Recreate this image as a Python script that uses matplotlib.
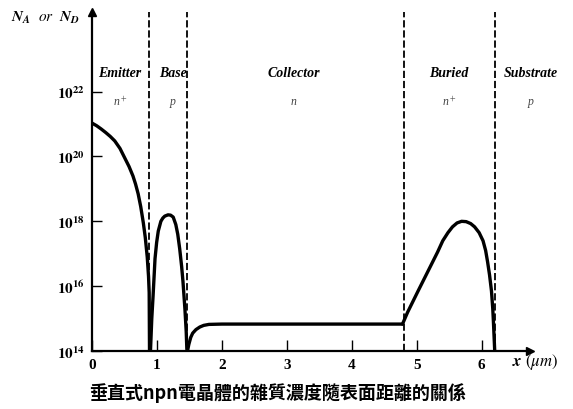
import numpy as np
import matplotlib
matplotlib.use("Agg")
import matplotlib.pyplot as plt
from matplotlib.ticker import NullLocator

plt.rcParams["font.family"] = ["Liberation Serif", "DejaVu Serif"]
plt.rcParams["mathtext.fontset"] = "stix"

# doping profile (x in um, log10 of concentration)
emitter_x = [0.0, 0.07, 0.14, 0.21, 0.28, 0.35, 0.43, 0.51, 0.57, 0.63, 0.67,
             0.71, 0.75, 0.79, 0.82, 0.85, 0.87, 0.88, 0.885]
emitter_log = [21.03, 20.95, 20.85, 20.74, 20.62, 20.48, 20.25, 19.93, 19.69, 19.4, 19.15,
               18.85, 18.45, 17.95, 17.5, 16.9, 16.3, 15.8, 14.0]

base_x = [0.90, 0.92, 0.94, 0.97, 0.995, 1.02, 1.06, 1.09, 1.12, 1.17, 1.21, 1.25,
          1.29, 1.32, 1.35, 1.38, 1.40, 1.43, 1.45, 1.46]
base_log = [14.0, 15.0, 15.7, 16.85, 17.35, 17.7, 18.0, 18.1, 18.16, 18.2, 18.19, 18.13,
            17.9, 17.6, 17.15, 16.6, 16.15, 15.3, 14.6, 14.05]

collector_x = [1.47, 1.49, 1.52, 1.55, 1.60, 1.66, 1.72, 1.80, 2.0, 3.0, 4.0, 4.78]
collector_log = [14.0, 14.2, 14.42, 14.55, 14.66, 14.74, 14.79, 14.82, 14.83, 14.83, 14.83, 14.83]

buried_x = [4.78, 4.86, 5.02, 5.17, 5.32, 5.40, 5.48, 5.55, 5.62, 5.69, 5.76, 5.83,
            5.89, 5.96, 6.02, 6.06, 6.09, 6.12, 6.15, 6.17, 6.18, 6.19, 6.20]
buried_log = [14.83, 15.2, 15.85, 16.45, 17.05, 17.4, 17.65, 17.83, 17.95, 18.0, 17.99, 17.93,
              17.83, 17.65, 17.4, 17.1, 16.75, 16.35, 15.85, 15.3, 14.9, 14.45, 14.0]

boundaries = [0.88, 1.46, 4.80, 6.20]
regions = ["Emitter", "Base", "Collector", "Buried", "Substrate"]
region_x = [0.43, 1.24, 3.10, 5.50, 6.76]
dopants = ["n$^+$", "p", "n", "n$^+$", "p"]

xticks = [0, 1, 2, 3, 4, 5, 6]
yticks = [1e14, 1e16, 1e18, 1e20, 1e22]
ytick_labels = [r"$\mathbf{10^{14}}$", r"$\mathbf{10^{16}}$", r"$\mathbf{10^{18}}$",
                r"$\mathbf{10^{20}}$", r"$\mathbf{10^{22}}$"]

fig = plt.figure(figsize=(5.73, 4.10), dpi=100)
ax = fig.add_axes([0.1606, 0.1415, 0.764, 0.827])
ax.set_yscale("log")
ax.set_xlim(0, 6.74)
ax.set_ylim(1e14, 10 ** 24.46)

for xs, ls in [(emitter_x, emitter_log), (base_x, base_log),
               (collector_x, collector_log), (buried_x, buried_log)]:
    ax.plot(xs, 10 ** np.array(ls), color="black", lw=2.4,
            solid_capstyle="round", solid_joinstyle="round")

for b in boundaries:
    ax.axvline(b, color="black", lw=1.3, ls=(0, (4, 1.6)))

for name, rx, d in zip(regions, region_x, dopants):
    ax.text(rx, 10 ** 22.6, name, ha="center", va="center", fontsize=10,
            fontweight="bold", style="italic")
    ax.text(rx, 10 ** 21.7, d, ha="center", va="center", fontsize=8.5,
            style="italic", color="#444444")

for s in ["top", "right"]:
    ax.spines[s].set_visible(False)
ax.spines["left"].set_linewidth(1.6)
ax.spines["bottom"].set_linewidth(1.6)

ax.plot(0, 1, marker="^", color="black", ms=6, transform=ax.transAxes, clip_on=False)
ax.plot(1, 0, marker=">", color="black", ms=6, transform=ax.transAxes, clip_on=False)

ax.set_xticks(xticks)
ax.set_xticklabels([str(t) for t in xticks], fontsize=11, fontweight="bold")
ax.set_yticks(yticks)
ax.set_yticklabels(ytick_labels, fontsize=11)
ax.yaxis.set_minor_locator(NullLocator())
ax.tick_params(axis="x", direction="in", length=8, width=1, pad=5)
ax.tick_params(axis="y", direction="in", length=7, width=1, pad=5)

fig.text(0.975, 0.118, r"$\mathbfit{x}$ $(\mathit{\mu m})$", ha="right", va="center", fontsize=12)
fig.text(0.02, 0.955, r"$\mathbfit{N_A}$  $\mathit{or}$  $\mathbfit{N_D}$", ha="left",
         va="center", fontsize=11)

fig.text(0.485, 0.042, "垂直式npn電晶體的雜質濃度隨表面距離的關係", ha="center", va="center",
         fontsize=13, fontweight="bold", family=["Noto Sans CJK TC", "DejaVu Sans"])

fig.savefig("out.png", dpi=100)
